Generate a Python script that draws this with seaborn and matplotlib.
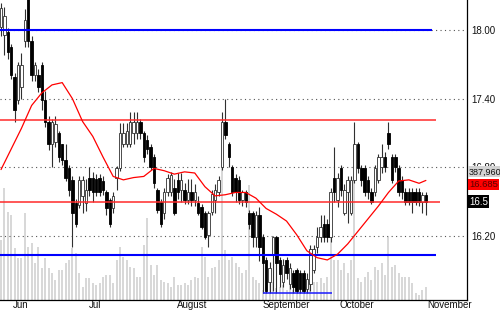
import numpy as np
import matplotlib
matplotlib.use("Agg")
import matplotlib.pyplot as plt
import seaborn as sns
from matplotlib.transforms import blended_transform_factory, ScaledTranslation

sns.set_style("white")
plt.rcParams["font.family"] = ["Liberation Sans", "DejaVu Sans"]

# ---------------- data ----------------
opens = [18.03, 17.96, 17.98, 17.85, 17.59, 17.39, 17.50, 17.90, 18.30, 17.90,
         17.61, 17.61, 17.69, 17.39, 17.20, 17.00, 17.02, 17.10, 17.00, 16.86,
         16.79, 16.69, 16.49, 16.47, 16.55, 16.49, 16.71, 16.71, 16.70, 16.71,
         16.68, 16.58, 16.51, 16.44, 16.71, 16.79, 17.00, 17.00, 17.00, 17.10,
         17.10, 17.20, 17.10, 17.04, 16.98, 16.89, 16.60, 16.50, 16.40, 16.58,
         16.58, 16.62, 16.69, 16.60, 16.60, 16.51, 16.58, 16.51, 16.49, 16.45,
         16.40, 16.21, 16.41, 16.51, 16.58, 16.80, 17.20, 17.00, 16.80, 16.71,
         16.69, 16.51, 16.58, 16.40, 16.40, 16.19, 16.38, 16.19, 15.99, 15.80,
         16.03, 16.19, 15.99, 15.80, 15.99, 15.78, 15.88, 15.90, 15.88, 15.88,
         15.74, 15.78, 15.90, 16.10, 16.19, 16.30, 16.30, 16.19, 16.71, 16.51,
         16.79, 16.40, 16.58, 16.40, 16.69, 17.00, 16.79, 16.79, 16.69, 16.58,
         16.58, 16.69, 16.80, 16.89, 17.10, 16.89, 16.89, 16.79, 16.69, 16.58,
         16.58, 16.58, 16.58, 16.58, 16.50, 16.56]
highs = [18.24, 18.20, 18.02, 17.88, 17.62, 17.72, 17.80, 18.18, 18.35, 17.95,
         17.72, 17.66, 17.72, 17.47, 17.25, 17.22, 17.25, 17.12, 17.00, 17.00,
         16.82, 16.72, 16.52, 16.72, 16.72, 16.70, 16.80, 16.76, 16.74, 16.74,
         16.72, 16.60, 16.53, 16.58, 16.81, 17.19, 17.19, 17.19, 17.28, 17.28,
         17.28, 17.22, 17.12, 17.08, 17.00, 16.92, 16.62, 16.52, 16.62, 16.74,
         16.76, 16.70, 16.75, 16.75, 16.66, 16.70, 16.70, 16.65, 16.55, 16.48,
         16.42, 16.42, 16.60, 16.65, 16.72, 17.28, 17.40, 17.02, 16.82, 16.74,
         16.72, 16.60, 16.60, 16.43, 16.42, 16.42, 16.45, 16.22, 16.02, 15.97,
         16.20, 16.20, 16.02, 16.00, 16.02, 15.96, 15.90, 15.92, 15.90, 15.90,
         15.88, 16.12, 16.12, 16.28, 16.38, 16.38, 16.35, 16.62, 16.98, 16.75,
         16.82, 16.65, 16.72, 16.72, 17.20, 17.02, 16.82, 16.82, 16.72, 16.62,
         16.82, 16.92, 17.00, 16.93, 17.20, 16.92, 16.92, 16.82, 16.72, 16.62,
         16.62, 16.62, 16.62, 16.62, 16.58, 16.58]
lows = [17.95, 17.78, 17.75, 17.57, 17.20, 17.35, 17.40, 17.85, 17.85, 17.55,
        17.55, 17.46, 17.30, 17.15, 16.95, 16.80, 16.98, 16.85, 16.82, 16.68,
        16.55, 16.10, 16.28, 16.44, 16.40, 16.42, 16.55, 16.50, 16.55, 16.55,
        16.56, 16.38, 16.28, 16.40, 16.60, 16.77, 16.98, 16.98, 16.98, 17.00,
        17.05, 17.05, 16.85, 16.92, 16.78, 16.62, 16.40, 16.28, 16.35, 16.55,
        16.55, 16.38, 16.52, 16.50, 16.48, 16.48, 16.46, 16.46, 16.38, 16.26,
        16.17, 16.10, 16.38, 16.40, 16.55, 16.78, 17.05, 16.80, 16.55, 16.50,
        16.48, 16.46, 16.45, 16.26, 16.10, 16.10, 15.98, 15.70, 15.70, 15.70,
        15.72, 15.70, 15.75, 15.75, 15.82, 15.74, 15.70, 15.70, 15.70, 15.70,
        15.70, 15.72, 15.88, 16.05, 16.15, 16.15, 16.15, 16.15, 16.50, 16.45,
        16.55, 16.38, 16.31, 16.38, 16.66, 16.75, 16.64, 16.55, 16.52, 16.48,
        16.55, 16.66, 16.75, 16.76, 16.96, 16.66, 16.76, 16.55, 16.52, 16.47,
        16.47, 16.40, 16.47, 16.46, 16.40, 16.38]
closes = [18.19, 18.12, 17.81, 17.61, 17.30, 17.69, 17.69, 18.09, 17.90, 17.61,
          17.69, 17.50, 17.39, 17.20, 17.00, 17.20, 17.18, 16.89, 16.86, 16.71,
          16.60, 16.40, 16.30, 16.69, 16.69, 16.60, 16.60, 16.58, 16.58, 16.58,
          16.60, 16.44, 16.30, 16.55, 16.79, 17.10, 17.10, 17.12, 17.20, 17.20,
          17.20, 17.10, 16.89, 16.96, 16.80, 16.66, 16.43, 16.30, 16.58, 16.71,
          16.73, 16.40, 16.58, 16.69, 16.51, 16.58, 16.51, 16.58, 16.40, 16.28,
          16.19, 16.40, 16.57, 16.60, 16.69, 17.20, 17.08, 16.89, 16.58, 16.58,
          16.51, 16.58, 16.50, 16.30, 16.19, 16.38, 16.10, 15.96, 15.72, 15.92,
          16.19, 15.96, 15.87, 15.95, 15.88, 15.92, 15.75, 15.72, 15.74, 15.72,
          15.82, 16.09, 16.09, 16.19, 16.28, 16.19, 16.19, 16.58, 16.58, 16.71,
          16.60, 16.60, 16.69, 16.69, 17.00, 16.79, 16.69, 16.58, 16.58, 16.50,
          16.79, 16.89, 16.89, 16.80, 17.00, 16.69, 16.80, 16.58, 16.58, 16.50,
          16.50, 16.50, 16.50, 16.50, 16.56, 16.50]
volume = [180, 336, 264, 255, 156, 126, 126, 261, 159, 171,
          111, 159, 96, 126, 96, 81, 60, 90, 90, 111,
          120, 156, 141, 81, 39, 66, 66, 51, 45, 51,
          69, 75, 75, 51, 120, 159, 129, 120, 99, 96,
          69, 69, 165, 246, 105, 75, 105, 60, 54, 51,
          39, 69, 45, 45, 51, 45, 60, 69, 66, 159,
          129, 69, 96, 99, 120, 450, 150, 120, 129, 111,
          99, 81, 90, 345, 69, 60, 51, 30, 60, 51,
          54, 36, 39, 45, 30, 51, 30, 39, 30, 36,
          39, 51, 54, 54, 66, 51, 69, 285, 120, 120,
          90, 111, 81, 120, 465, 66, 54, 69, 84, 60,
          99, 90, 111, 75, 189, 99, 105, 81, 69, 69,
          69, 51, 21, 15, 30, 39]  # thousands of shares

ma_index = [0, 3, 6, 9, 12, 15, 18, 21, 24, 27, 30, 33, 36, 39, 42, 45, 48, 51,
            54, 57, 60, 63, 66, 69, 72, 75, 78, 81, 84, 87, 90, 93, 96, 99, 102,
            105, 108, 111, 114, 117, 120, 123, 125]
ma_values = [16.78, 16.96, 17.14, 17.34, 17.45, 17.52, 17.54, 17.40, 17.20, 17.07,
             16.89, 16.72, 16.69, 16.71, 16.72, 16.79, 16.77, 16.74, 16.76, 16.75,
             16.63, 16.55, 16.56, 16.58, 16.58, 16.53, 16.44, 16.39, 16.33, 16.21,
             16.07, 16.01, 15.99, 16.04, 16.13, 16.24, 16.35, 16.46, 16.58, 16.68,
             16.69, 16.66, 16.685]

blue_levels = [18.00, 16.03]
blue_ends = [126.8, 127.9]
red_levels = [17.21, 16.50]
red_ends = [127.9, 129.1]
support_level = 15.70
support_span = [77.0, 97.4]

grid_levels = [18.00, 17.40, 16.80, 16.20]
grid_labels = ["18.00", "17.40", "16.80", "16.20"]
months = ["Jun", "Jul", "August", "September", "October", "November"]
month_ticks = [2.65, 25.0, 50.9, 76.2, 98.7, 124.7]

volume_label = "387,960"
ma_label = "16.685"
last_label = "16.5"

# ---------------- figure ----------------
W, H = 500, 312
fig = plt.figure(figsize=(W / 100, H / 100), dpi=100)
rect = [0, 12 / H, 467 / W, 300 / H]
ax_v = fig.add_axes(rect)
ax = fig.add_axes(rect)
ax.patch.set_visible(False)

idx = np.arange(len(closes))
o = np.array(opens); c = np.array(closes)
hi = np.array(highs); lo = np.array(lows)
XLIM = (-0.3, 137.1)

# volume (background)
ax_v.vlines(idx, 0, np.array(volume) * 1000, color="#cdcdcd", lw=1.1)
ax_v.set_ylim(0, 900000)
ax_v.set_xlim(*XLIM)
ax_v.set_yticks([]); ax_v.set_xticks([])
for s in ax_v.spines.values():
    s.set_visible(False)

# grid
for lv in grid_levels:
    ax.axhline(lv, color="#555555", lw=0.8, ls=(0, (1, 3)), zorder=1)

# candles
ax.vlines(idx, lo, hi, color="#303030", lw=0.8, zorder=2)
up = c >= o
body_h = np.maximum(np.abs(c - o), 0.01)
body_b = np.minimum(o, c)
ax.bar(idx[up], body_h[up], bottom=body_b[up], width=0.72, color="white",
       edgecolor="#303030", linewidth=0.6, zorder=3)
ax.bar(idx[~up], body_h[~up], bottom=body_b[~up], width=0.72, color="black",
       edgecolor="black", linewidth=0.6, zorder=3)

# horizontal levels
for lv, e in zip(blue_levels, blue_ends):
    ax.hlines(lv, -0.5, e, color="#0000ff", lw=1.5, zorder=4)
for lv, e in zip(red_levels, red_ends):
    ax.hlines(lv, -0.5, e, color="#ff2a2a", lw=1.1, zorder=4)
ax.hlines(support_level, support_span[0], support_span[1], color="#1a1aff", lw=1.1, zorder=4)

# moving average
sns.lineplot(x=ma_index, y=ma_values, ax=ax, color="#ff0000", lw=0.9, zorder=5)

ax.set_xlim(*XLIM)
ax.set_ylim(15.64, 18.262)

# axes styling
ax.yaxis.tick_right()
ax.set_yticks(grid_levels)
ax.set_yticklabels(grid_labels)
ax.tick_params(axis="y", length=0, pad=3, labelsize=7, colors="#111111")
ax.set_xticks(month_ticks)
ax.set_xticklabels(months)
ax.tick_params(axis="x", length=5, width=0.8, pad=-5, labelsize=7, direction="out",
               colors="#111111")
off = ScaledTranslation(2 / 72, 0, fig.dpi_scale_trans)
for lab in ax.get_xticklabels():
    lab.set_ha("left")
    lab.set_va("top")
    lab.set_transform(lab.get_transform() + off)
ax.set_xlabel(""); ax.set_ylabel("")
for side in ["left", "top"]:
    ax.spines[side].set_visible(False)
for side in ["right", "bottom"]:
    ax.spines[side].set_color("black")
    ax.spines[side].set_linewidth(0.9)

# label boxes at the right
tr = blended_transform_factory(ax.transAxes, ax.transData)
ax.text(1.004, 16.76, volume_label, transform=tr, fontsize=6.5, color="#111111",
        va="center", ha="left", zorder=10,
        bbox=dict(boxstyle="square,pad=0.12", fc="#d2d2d2", ec="none"))
ax.text(1.004, 16.65, ma_label, transform=tr, fontsize=6.8, color="#5a0000",
        va="center", ha="left", zorder=10,
        bbox=dict(boxstyle="square,pad=0.12", fc="#ff0000", ec="none"))
ax.text(1.004, 16.50, last_label, transform=tr, fontsize=7, color="white",
        va="center", ha="left", zorder=10,
        bbox=dict(boxstyle="square,pad=0.15", fc="black", ec="none"))

fig.savefig("out.png", dpi=100)
